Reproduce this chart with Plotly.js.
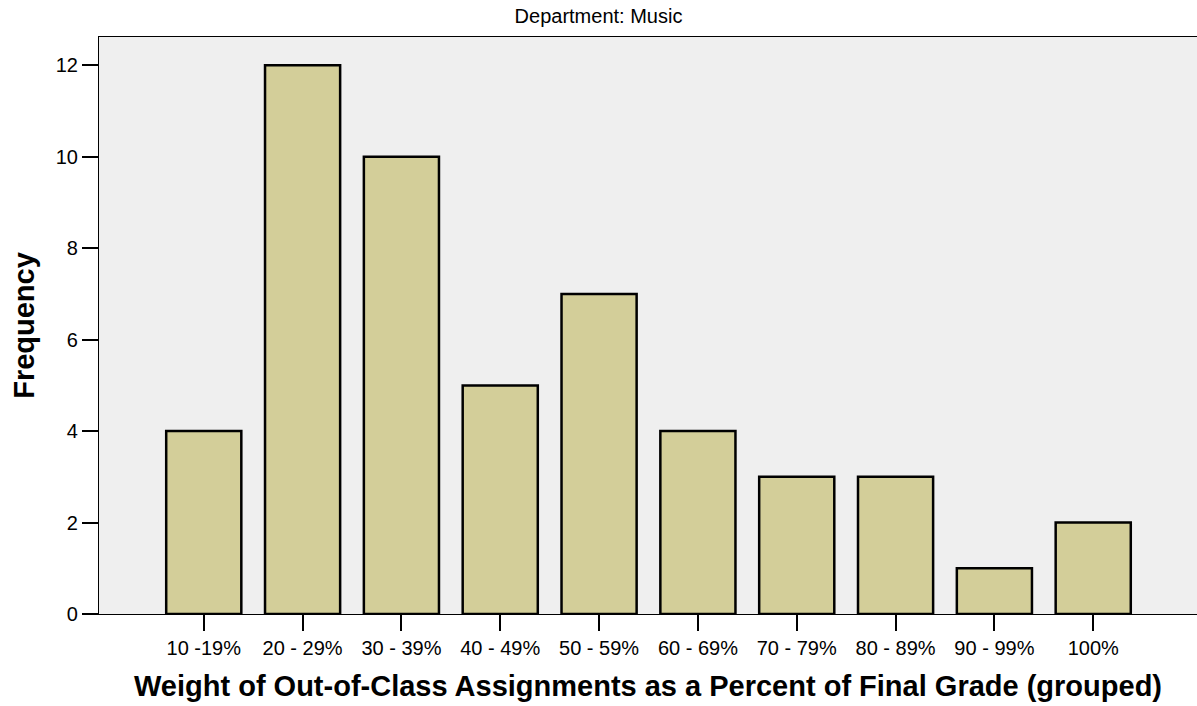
<!DOCTYPE html>
<html><head><meta charset="utf-8">
<script src="https://cdn.plot.ly/plotly-3.0.1.min.js"></script>
<style>html,body{margin:0;padding:0;background:#fff}#chart{width:1197px;height:706px}</style>
</head><body><div id="chart"></div>
<script>
const categories = ["10 -19%", "20 - 29%", "30 - 39%", "40 - 49%", "50 - 59%", "60 - 69%", "70 - 79%", "80 - 89%", "90 - 99%", "100%"];
const frequency = [4, 12, 10, 5, 7, 4, 3, 3, 1, 2];
const yTicks = [0, 2, 4, 6, 8, 10, 12];

const font = "Liberation Sans, Arial, sans-serif";
Plotly.newPlot("chart", [{
  type: "bar",
  x: categories,
  y: frequency,
  width: 0.76,
  marker: {color: "#d3ce99", line: {color: "#000", width: 2.5}},
  hoverinfo: "x+y"
}], {
  width: 1197, height: 706,
  margin: {l: 98.5, r: 0, t: 37, b: 92, pad: 0},
  paper_bgcolor: "#fff",
  plot_bgcolor: "#efefef",
  font: {family: font, color: "#000", size: 20},
  title: {text: "Department: Music", x: 0.5, xanchor: "center", y: 0.978, yanchor: "middle", font: {size: 20, family: font}},
  xaxis: {
    type: "category",
    range: [-1.06, 10.05],
    showgrid: false, zeroline: false,
    showline: true, linecolor: "#000", linewidth: 1.2, mirror: true,
    ticks: "outside", ticklen: 16, tickwidth: 2, tickcolor: "#000",
    tickfont: {size: 20, family: font},
    title: {text: "<b>Weight of Out-of-Class Assignments as a Percent of Final Grade (grouped)</b>", font: {size: 29, family: font}, standoff: 17}
  },
  yaxis: {
    range: [0, 12.62],
    tickvals: yTicks,
    showgrid: false, zeroline: false,
    showline: true, linecolor: "#000", linewidth: 1.2,
    ticks: "outside", ticklen: 16, tickwidth: 2, tickcolor: "#000",
    tickfont: {size: 20, family: font},
    title: {text: "<b>Frequency</b>", font: {size: 29, family: font}, standoff: 12}
  },
  showlegend: false
}, {displayModeBar: false, staticPlot: false});
</script></body></html>
